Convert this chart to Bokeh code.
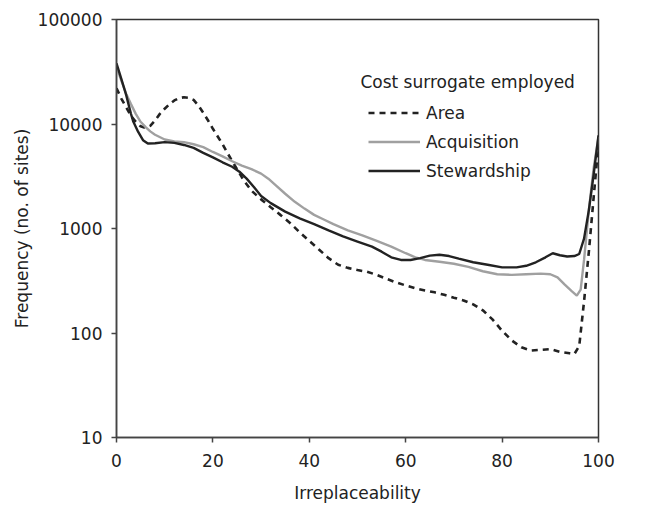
from bokeh.plotting import figure
from bokeh.models import Range1d, FixedTicker, Legend, LegendItem, Label
from bokeh.embed import file_html
from bokeh.resources import INLINE

# ---- data ----
area_x = [0, 1, 2, 3, 4, 5, 6, 7, 8, 9, 10, 11, 12, 13, 14, 15, 16, 17, 18, 19, 20,
          21, 22, 23, 24, 25, 26, 27, 28, 30, 32, 34, 36, 38, 40, 42, 44, 46, 48, 50,
          52, 54, 56, 58, 60, 62, 64, 66, 68, 70, 72, 74, 76, 78, 80, 82, 84, 86, 88,
          90, 92, 94, 95, 96, 97, 98, 99, 100]
area_y = [22000, 17500, 14500, 12000, 10500, 9500, 9200, 9600, 10800, 12500, 14000,
          15500, 16800, 17700, 18000, 17800, 17000, 15000, 12800, 10800, 9000,
          7600, 6400, 5300, 4400, 3700, 3100, 2650, 2300, 1900, 1600, 1350, 1130, 920,
          760, 630, 520, 450, 420, 400, 385, 360, 330, 305, 285, 268, 255, 245, 232,
          218, 205, 188, 165, 135, 105, 85, 73, 68, 69, 70, 66, 64, 63, 75, 200, 600,
          2000, 6500]

acq_x = [0, 1, 2, 3, 4, 5, 6, 7, 8, 10, 12, 14, 16, 18, 20, 22, 24, 26, 28, 30, 31.5,
         33, 35, 37, 39, 41, 43, 45, 48, 51, 54, 57, 60, 62, 64, 67, 70, 73, 76, 79,
         82, 85, 88, 90, 91.5, 93, 94.5, 95.5, 96.3, 97, 98, 99, 100]
acq_y = [35000, 26000, 19500, 15500, 12500, 10500, 9400, 8500, 7900, 7100, 6800,
         6700, 6400, 6000, 5400, 4900, 4400, 4000, 3700, 3350, 3000, 2600, 2150, 1800,
         1550, 1350, 1220, 1100, 960, 860, 760, 670, 580, 530, 500, 480, 460, 430, 390,
         365, 360, 365, 370, 365, 340, 290, 250, 228, 260, 500, 1500, 3800, 7500]

stew_x = [0, 1, 2, 3, 3.5, 4.5, 5.5, 6.5, 8, 10, 12, 14, 16, 18, 20, 22, 24, 25.5, 27,
          28.5, 30, 32, 35, 38, 41, 44, 47, 50, 53, 55, 57, 59, 61, 63, 65, 67, 69, 71,
          74, 77, 80, 83, 85, 87, 89, 90.5, 92, 93.5, 95, 96, 97, 98, 99, 100]
stew_y = [38000, 27000, 19000, 12500, 10500, 8400, 7000, 6500, 6550, 6700, 6600, 6300,
          5900, 5300, 4800, 4300, 3900, 3500, 3000, 2500, 2050, 1750, 1450, 1250, 1100,
          960, 840, 750, 670, 600, 530, 500, 500, 520, 550, 560, 545, 515, 475, 450,
          425, 425, 440, 475, 530, 580, 555, 540, 545, 570, 800, 1500, 3300, 7800]

x_ticks = [0, 20, 40, 60, 80, 100]
y_ticks = [10, 100, 1000, 10000, 100000]
y_tick_labels = ["10", "100", "1000", "10000", "100000"]
series_names = ["Area", "Acquisition", "Stewardship"]
legend_title = "Cost surrogate employed"
x_label = "Irreplaceability"
y_label = "Frequency (no. of sites)"

FONT = "DejaVu Sans"

p = figure(width=650, height=505, y_axis_type="log",
           x_range=Range1d(0, 100), y_range=Range1d(10, 100000),
           output_backend="svg", toolbar_location=None,
           min_border_left=116, min_border_right=52,
           min_border_top=19, min_border_bottom=65)
p.background_fill_color = "white"
p.border_fill_color = "white"
p.outline_line_color = "#333333"
p.outline_line_width = 1.5
p.xgrid.visible = False
p.ygrid.visible = False

p.xaxis.ticker = FixedTicker(ticks=x_ticks)
p.yaxis.ticker = FixedTicker(ticks=y_ticks)
p.yaxis.major_label_overrides = {t: l for t, l in zip(y_ticks, y_tick_labels)}

for ax in (p.xaxis, p.yaxis):
    ax.axis_line_color = "#444444"
    ax.axis_line_width = 1.5
    ax.major_tick_line_color = "#444444"
    ax.major_tick_line_width = 1.5
    ax.major_tick_in = 0
    ax.major_tick_out = 5
    ax.minor_tick_line_color = None
    ax.major_label_text_font = FONT
    ax.major_label_text_font_size = "17px"
    ax.major_label_text_color = "#222222"
    ax.axis_label_text_font = FONT
    ax.axis_label_text_font_size = "17px"
    ax.axis_label_text_font_style = "normal"
    ax.axis_label_text_color = "#222222"

p.xaxis.axis_label = x_label
p.yaxis.axis_label = y_label
p.xaxis.major_label_standoff = 11
p.xaxis.axis_label_standoff = 13
p.yaxis.major_label_standoff = 9
p.yaxis.axis_label_standoff = 3

r_area = p.line(area_x, area_y, line_color="#222222", line_width=2.6, line_dash="6 5")
r_acq = p.line(acq_x, acq_y, line_color="#a0a0a0", line_width=2.4)
r_stew = p.line(stew_x, stew_y, line_color="#222222", line_width=2.4)

legend = Legend(items=[LegendItem(label=series_names[0], renderers=[r_area]),
                       LegendItem(label=series_names[1], renderers=[r_acq]),
                       LegendItem(label=series_names[2], renderers=[r_stew])],
                location=(252, 254), orientation="vertical",
                glyph_width=52, glyph_height=25, label_height=25,
                label_standoff=6, spacing=4, padding=0, margin=0,
                border_line_color=None, background_fill_alpha=0,
                label_text_font=FONT, label_text_font_size="17px",
                label_text_color="#222222")
p.add_layout(legend, "center")

title = Label(x=50.6, y=25200, text=legend_title, text_baseline="middle",
              text_align="left", text_font=FONT, text_font_size="17px",
              text_color="#222222")
p.add_layout(title)

open("out.html", "w").write(file_html(p, INLINE))
